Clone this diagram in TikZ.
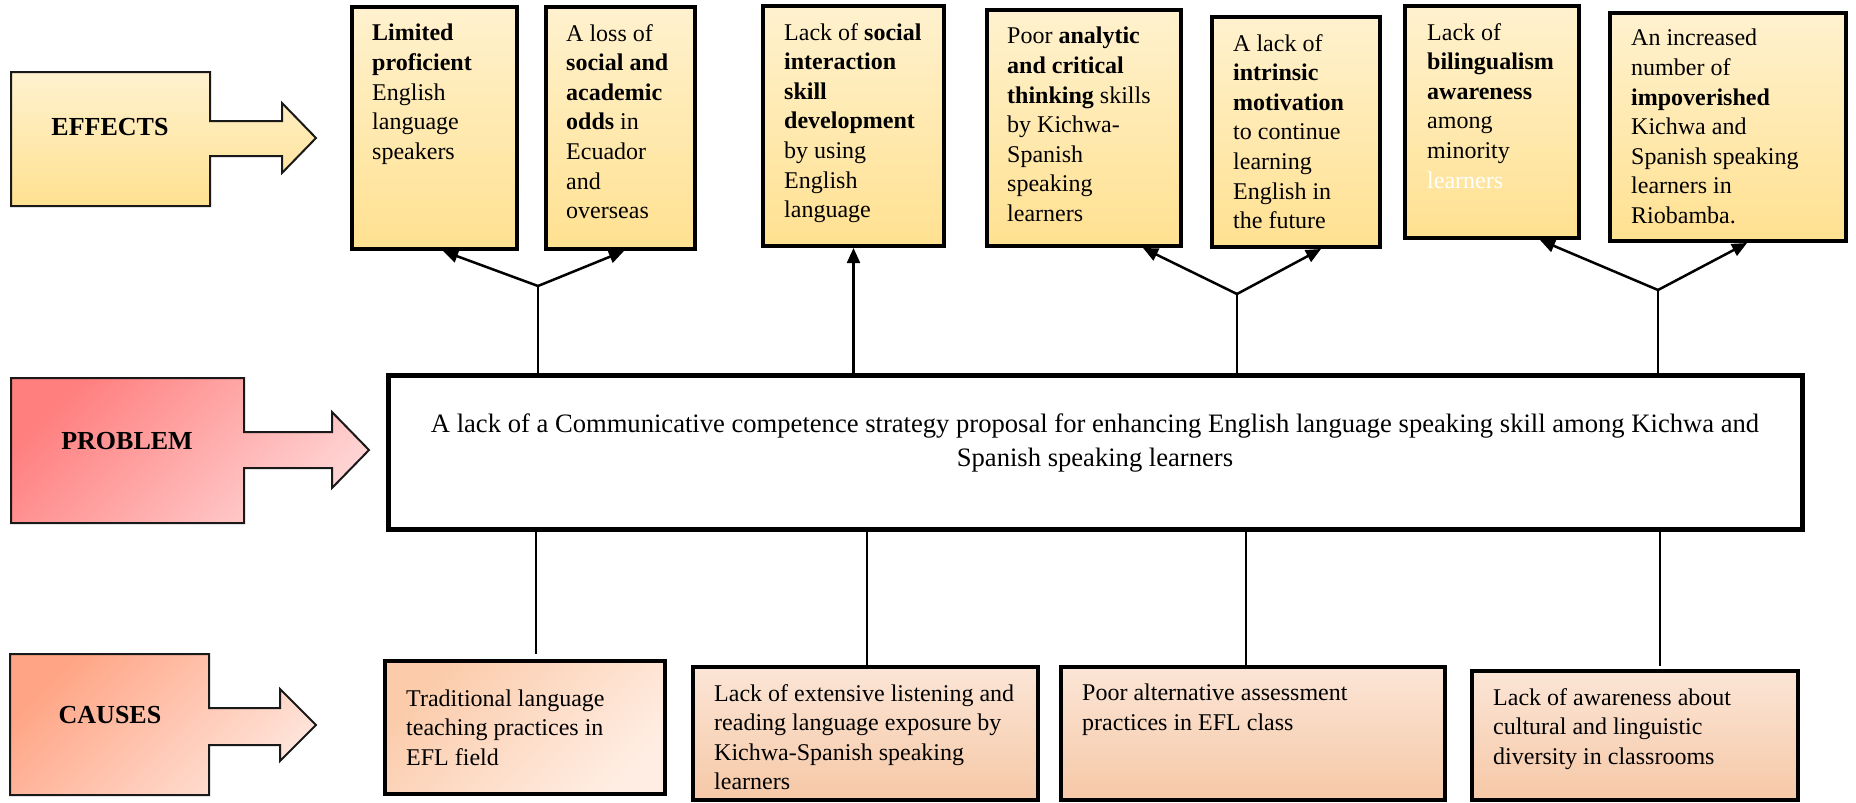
\documentclass[tikz,border=0pt]{standalone}
\usepackage{fontspec}
\setmainfont{Liberation Serif}
\usetikzlibrary{arrows.meta}

\definecolor{goldT}{HTML}{FFFAEE}
\definecolor{goldM}{HTML}{FFDF8A}
\definecolor{goldB}{HTML}{FFE9B0}
\definecolor{peachT}{HTML}{FEF4EE}
\definecolor{peachM}{HTML}{F5C4A0}
\definecolor{peachB}{HTML}{F9D6BD}
\definecolor{redA}{HTML}{FF7F7F}
\definecolor{redB}{HTML}{FFD4D4}
\definecolor{salA}{HTML}{FFA585}
\definecolor{salB}{HTML}{FFE4DA}
\definecolor{peachA}{HTML}{FBCBAA}
\definecolor{peachC}{HTML}{FFEDE3}

\pgfdeclareverticalshading{goldfade}{100bp}{color(0bp)=(goldB); color(20bp)=(goldM); color(100bp)=(goldT)}
\pgfdeclareverticalshading{peachfade}{100bp}{color(0bp)=(peachB); color(18bp)=(peachM); color(100bp)=(peachT)}

\begin{document}
\begin{tikzpicture}[x=1pt,y=-1pt,
  ebox/.style={draw=black, line width=4pt, shade, shading=goldfade, inner sep=0pt},
  cbox/.style={draw=black, line width=4pt, shade, shading=peachfade, inner sep=0pt},
  btxt/.style={anchor=north west, inner sep=0pt, align=left, font=\fontsize{24}{29.6}\selectfont},
  lbl/.style={font=\fontsize{26}{30}\selectfont\bfseries, inner sep=0pt},
  band/.style={draw=black!90, line width=2pt, line join=miter},
  link/.style={line width=1.2pt},
  fork/.style={line width=2.5pt, -{Triangle[length=15pt,width=13pt]}}]

\useasboundingbox (0,0) rectangle (1856,803);

% ---- side arrows ----
\shadedraw[band, shading=goldfade]
  (11,72) -- (210,72) -- (210,121) -- (282,121) -- (282,103) -- (316,138)
  -- (282,173) -- (282,156) -- (210,156) -- (210,206) -- (11,206) -- cycle;
\shadedraw[band, top color=redA, bottom color=redB, shading angle=45]
  (11,378) -- (244,378) -- (244,432) -- (332,432) -- (332,412) -- (369,450)
  -- (332,488) -- (332,468) -- (244,468) -- (244,523) -- (11,523) -- cycle;
\shadedraw[band, top color=salA, bottom color=salB, shading angle=45]
  (10,654) -- (209,654) -- (209,708) -- (280,708) -- (280,689) -- (316,725)
  -- (280,761) -- (280,745) -- (209,745) -- (209,795) -- (10,795) -- cycle;

\node[lbl] (effl) at (110,127) {EFFECTS};
\node[lbl] (probl) at (127,441) {PROBLEM};
\node[lbl] (causl) at (110,715) {CAUSES};

% ---- effect boxes ----
\node[ebox, minimum width=165pt, minimum height=242pt] (e1) at (434.5,128) {};
\node[ebox, minimum width=149pt, minimum height=242pt] (e2) at (620.5,128) {};
\node[ebox, minimum width=181pt, minimum height=240pt] (e3) at (853.5,126) {};
\node[ebox, minimum width=194pt, minimum height=236pt] (e4) at (1084,128) {};
\node[ebox, minimum width=168pt, minimum height=230pt] (e5) at (1296,132) {};
\node[ebox, minimum width=174pt, minimum height=232pt] (e6) at (1492,122) {};
\node[ebox, minimum width=236pt, minimum height=228pt] (e7) at (1728,127) {};

\node[btxt] (e1t) at (372,24) {\textbf{Limited}\\\textbf{proficient}\\English\\language\\speakers};
\node[btxt] (e2t) at (566,24) {A loss of\\\textbf{social and}\\\textbf{academic}\\\textbf{odds} in\\Ecuador\\and\\overseas};
\node[btxt] (e3t) at (784,23) {Lack of \textbf{social}\\\textbf{interaction}\\\textbf{skill}\\\textbf{development}\\by using\\English\\language};
\node[btxt] (e4t) at (1007,27) {Poor \textbf{analytic}\\\textbf{and critical}\\\textbf{thinking} skills\\by Kichwa-\\Spanish\\speaking\\learners};
\node[btxt] (e5t) at (1233,34) {A lack of\\\textbf{intrinsic}\\\textbf{motivation}\\to continue\\learning\\English in\\the future};
\node[btxt] (e6t) at (1427,23) {Lack of\\\textbf{bilingualism}\\\textbf{awareness}\\among\\minority\\\textcolor{white}{learners}};
\node[btxt] (e7t) at (1631,29) {An increased\\number of\\\textbf{impoverished}\\Kichwa and\\Spanish speaking\\learners in\\Riobamba.};

% ---- problem box ----
\node[draw=black, line width=5pt, fill=white, inner sep=0pt,
      minimum width=1414pt, minimum height=154pt] (prob) at (1095.5,452.5) {};
\node[anchor=north, inner sep=0pt, align=center, font=\fontsize{26.6}{34.3}\selectfont]
  (probt) at (1095,413.5)
  {A lack of a Communicative competence strategy proposal for enhancing English language speaking skill among Kichwa and\\Spanish speaking learners};

% ---- cause boxes ----
\node[cbox, shading=axis, top color=peachA, bottom color=peachC, shading angle=45,
      minimum width=280pt, minimum height=133pt] (c1) at (525,727.5) {};
\node[cbox, minimum width=345pt, minimum height=133pt] (c2) at (865.5,733.5) {};
\node[cbox, minimum width=384pt, minimum height=133pt] (c3) at (1253,733.5) {};
\node[cbox, minimum width=326pt, minimum height=129pt] (c4) at (1635,735.5) {};

\node[btxt] (c1t) at (406,689.5) {Traditional language\\teaching practices in\\EFL field};
\node[btxt] (c2t) at (714,684) {Lack of extensive listening and\\reading language exposure by\\Kichwa-Spanish speaking\\learners};
\node[btxt] (c3t) at (1082,684) {Poor alternative assessment\\practices in EFL class};
\node[btxt] (c4t) at (1493,688) {Lack of awareness about\\cultural and linguistic\\diversity in classrooms};

% ---- problem to effects ----
\coordinate (j1) at (538,286);
\coordinate (j2) at (1237,294);
\coordinate (j3) at (1658,290);
\draw[link] (prob.north -| j1) -- (j1);
\draw[link] (prob.north -| j2) -- (j2);
\draw[link] (prob.north -| j3) -- (j3);
\draw[fork] (j1) -- ([xshift=93pt]e1.south west);
\draw[fork] (j1) -- ([xshift=80pt]e2.south west);
\draw[fork] (j2) -- ([xshift=158pt]e4.south west);
\draw[fork] (j2) -- ([xshift=111pt]e5.south west);
\draw[fork] (j3) -- ([xshift=137pt]e6.south west);
\draw[fork] (j3) -- ([xshift=139pt]e7.south west);
\draw[line width=2.2pt, -{Triangle[length=15pt,width=13pt]}] (prob.north -| e3.south) -- (e3.south);

% ---- causes to problem ----
\coordinate (k1) at (536,0);
\coordinate (k2) at (867,0);
\coordinate (k3) at (1246,0);
\coordinate (k4) at (1660,0);
\draw[link, shorten >=5pt] (prob.south -| k1) -- (c1.north -| k1);
\draw[link] (prob.south -| k2) -- (c2.north -| k2);
\draw[link] (prob.south -| k3) -- (c3.north -| k3);
\draw[link, shorten >=3pt] (prob.south -| k4) -- (c4.north -| k4);
\end{tikzpicture}
\end{document}
